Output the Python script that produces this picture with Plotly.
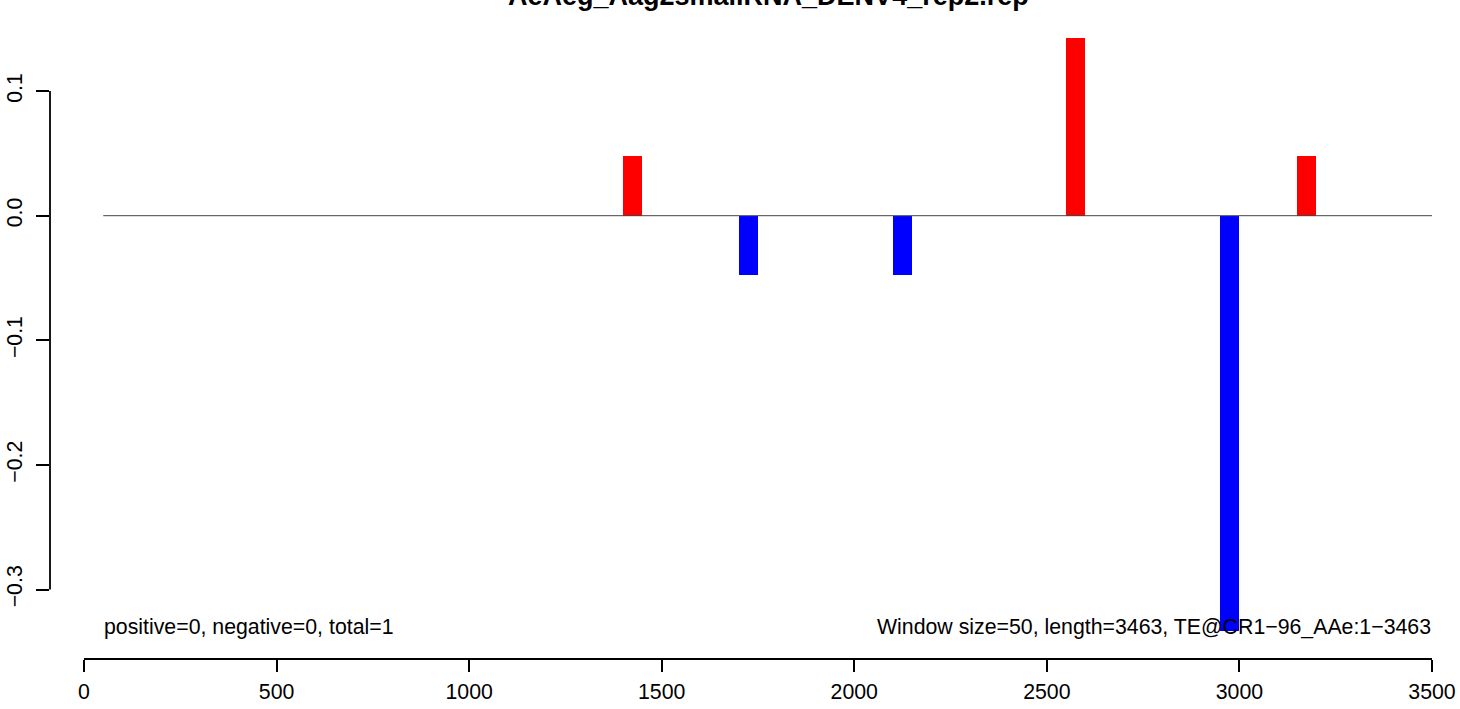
import plotly.graph_objects as go

# ---- data ----
title_text = "AeAeg_Aag2smallRNA_DENV4_rep2.rep"
window_size = 50
seq_length = 3463
axis_max = 3500

sense_bin_starts = [1400, 2550, 3150]
sense_values = [0.0476, 0.1429, 0.0476]

antisense_bin_starts = [1700, 2100, 2950]
antisense_values = [-0.0476, -0.0476, -0.3333]

x_ticks = [0, 500, 1000, 1500, 2000, 2500, 3000, 3500]
y_ticks = [-0.3, -0.2, -0.1, 0.0, 0.1]
y_tick_text = ["\u22120.3", "\u22120.2", "\u22120.1", "0.0", "0.1"]

left_note = "positive=0, negative=0, total=1"
right_note = "Window size=50, length=3463, TE@CR1\u221296_AAe:1\u22123463"

# ---- figure ----
W, H = 1460, 709
ML, MR, MT, MB = 50, 10, 14, 50
FONT = "Liberation Sans, Arial, Helvetica, sans-serif"
FS = 21.3

x_range = [-88.3, 3546.8]
y_range = [-0.35578, 0.16188]

fig = go.Figure()

# zero baseline
fig.add_trace(go.Scatter(
    x=[window_size, axis_max], y=[0, 0], mode="lines",
    line=dict(color="#444444", width=1), hoverinfo="skip", showlegend=False))

fig.add_trace(go.Bar(
    x=[s + window_size / 2 for s in sense_bin_starts], y=sense_values,
    width=window_size, marker=dict(color="#FF0000", line=dict(width=0)),
    showlegend=False))
fig.add_trace(go.Bar(
    x=[s + window_size / 2 for s in antisense_bin_starts], y=antisense_values,
    width=window_size, marker=dict(color="#0000FF", line=dict(width=0)),
    showlegend=False))

axis_color = "#000000"
fig.update_xaxes(
    range=x_range, showgrid=False, zeroline=False, showline=False,
    automargin=False,
    tickmode="array", tickvals=x_ticks, ticktext=[str(v) for v in x_ticks],
    ticks="outside", ticklen=12, tickwidth=1.8, tickcolor=axis_color,
    ticklabelstandoff=1,
    tickfont=dict(family=FONT, size=FS, color="#000000"))
fig.update_yaxes(
    range=y_range, showgrid=False, zeroline=False, showline=False,
    automargin=False,
    tickmode="array", tickvals=y_ticks, ticktext=y_tick_text,
    ticks="outside", ticklen=13, tickwidth=1.8, tickcolor=axis_color,
    tickangle=-90, ticklabelstandoff=5,
    tickfont=dict(family=FONT, size=FS, color="#000000"))

# R-style axis lines spanning the tick range only
fig.add_shape(type="line", xref="x", yref="paper",
              x0=x_ticks[0], x1=x_ticks[-1], y0=0, y1=0,
              line=dict(color=axis_color, width=1.8))
fig.add_shape(type="line", xref="paper", yref="y",
              x0=0, x1=0, y0=y_ticks[0], y1=y_ticks[-1],
              line=dict(color=axis_color, width=1.8))

note_y = -0.330
fig.add_annotation(x=window_size, y=note_y, xref="x", yref="y",
                   text=left_note, showarrow=False, xanchor="left", yanchor="middle",
                   borderpad=0, font=dict(family=FONT, size=FS, color="#000000"))
fig.add_annotation(x=axis_max, y=note_y, xref="x", yref="y",
                   text=right_note, showarrow=False, xanchor="right", yanchor="middle",
                   borderpad=0, font=dict(family=FONT, size=FS, color="#000000"))

plot_h = H - MT - MB
plot_w = W - ML - MR
title_px_x = 768
title_px_bottom = 13
fig.add_annotation(x=(title_px_x - ML) / plot_w, y=(H - MB - title_px_bottom) / plot_h,
                   xref="paper", yref="paper", text="<b>" + title_text + "</b>",
                   showarrow=False, xanchor="center", yanchor="bottom",
                   font=dict(family=FONT, size=27, color="#000000"))

fig.update_layout(
    width=W, height=H, autosize=False,
    margin=dict(l=ML, r=MR, t=MT, b=MB, pad=0, autoexpand=False),
    plot_bgcolor="#FFFFFF", paper_bgcolor="#FFFFFF",
    bargap=0, barmode="overlay", showlegend=False)

fig.write_html("out.html", config={"displayModeBar": False},
               post_script="document.body.style.margin='0px';")
